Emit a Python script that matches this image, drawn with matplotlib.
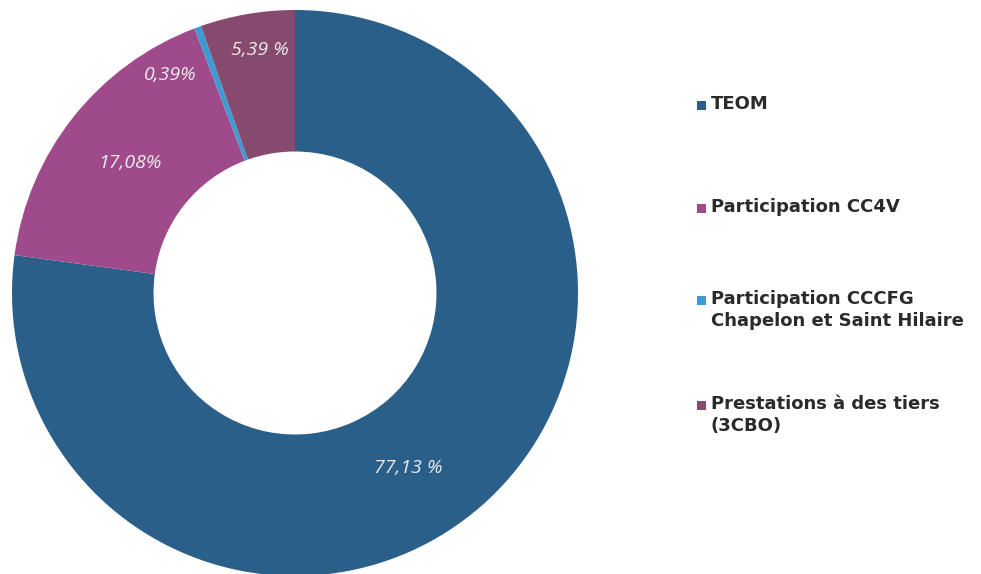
import matplotlib
matplotlib.use("Agg")
import matplotlib.pyplot as plt
from matplotlib.patches import Rectangle

# ---- data ----
categories = ["TEOM", "Participation CC4V",
              "Participation CCCFG\nChapelon et Saint Hilaire",
              "Prestations à des tiers\n(3CBO)"]
values = [77.13, 17.08, 0.39, 5.39]
value_labels = ["77,13 %", "17,08%", "0,39%", "5,39 %"]

# ---- style ----
colors = ["#2a5f8a", "#9f4b8b", "#3c9bd2", "#874a6f"]
label_xy = [(0.399, -0.618), (-0.583, 0.459), (-0.442, 0.770), (-0.124, 0.859)]
legend_y_px = [105, 208, 300, 405]

W, H = 981, 574
fig = plt.figure(figsize=(W / 100, H / 100), dpi=100)
fig.patch.set_facecolor("white")

cx, cy, R = 295, 293, 283
ax = fig.add_axes([(cx - R) / W, (H - cy - R) / H, 2 * R / W, 2 * R / H])
ax.pie(values, colors=colors, startangle=90, counterclock=False, radius=1.0,
       wedgeprops=dict(width=0.5, linewidth=0))
ax.set_xlim(-1, 1)
ax.set_ylim(-1, 1)
ax.set_aspect("auto")
ax.axis("off")

for txt, (x, y) in zip(value_labels, label_xy):
    ax.text(x, y, txt, ha="center", va="center", color="#ececec",
            fontsize=14, style="italic", family="Open Sans")

for cat, col, ypx in zip(categories, colors, legend_y_px):
    sq = 9
    fig.add_artist(Rectangle(((697) / W, (H - ypx - sq / 2) / H), sq / W, sq / H,
                             transform=fig.transFigure, facecolor=col,
                             edgecolor="none"))
    fig.text(711 / W, (H - ypx + 10) / H, cat, ha="left", va="top",
             fontsize=13, fontweight="bold", color="#2a2a2a",
             family="DejaVu Sans", linespacing=1.3)

fig.savefig("out.png", dpi=100, facecolor="white")
